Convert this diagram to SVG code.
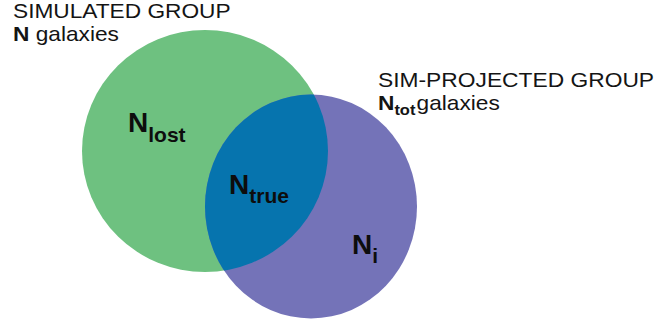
<svg xmlns="http://www.w3.org/2000/svg" width="660" height="324" viewBox="0 0 660 324">
  <style>
    .hdr { font-family: "Liberation Sans", Arial, sans-serif; font-size: 20px; fill: #141414; }
    .lbl { font-family: "Liberation Sans", Arial, sans-serif; font-weight: bold; fill: #0d0d0d; }
    .big { font-size: 28px; }
    .sub { font-size: 21px; }
    .b { font-weight: bold; }
  </style>
  <defs>
    <clipPath id="clipProjected">
      <ellipse cx="311" cy="206.5" rx="106" ry="112"/>
    </clipPath>
  </defs>
  <rect width="660" height="324" fill="#ffffff"/>

  <g id="simulated-group">
    <ellipse cx="205" cy="151" rx="123" ry="121" fill="#6ec180"/>
  </g>

  <g id="sim-projected-group">
    <ellipse cx="311" cy="206.5" rx="106" ry="112" fill="#7473b8"/>
  </g>

  <g id="overlap">
    <ellipse cx="205" cy="151" rx="123" ry="121" fill="#0674ae" clip-path="url(#clipProjected)"/>
  </g>

  <g id="connectors"/>

  <g id="labels-simulated">
    <text class="hdr" transform="translate(13,17.5) scale(1.135,1)">SIMULATED GROUP</text>
    <text class="hdr" transform="translate(13,41) scale(1.135,1)"><tspan class="b">N</tspan> galaxies</text>
  </g>

  <g id="labels-projected">
    <text class="hdr" transform="translate(378,87.3) scale(1.14,1)">SIM-PROJECTED GROUP</text>
    <text class="hdr" transform="translate(378,110) scale(1.135,1)"><tspan class="b">N</tspan><tspan class="b" font-size="14.5" dy="5">tot</tspan><tspan x="34" dy="-5">galaxies</tspan></text>
  </g>

  <g id="label-lost">
    <text class="lbl" x="128" y="132"><tspan class="big">N</tspan><tspan class="sub" dy="10">lost</tspan></text>
  </g>
  <g id="label-true">
    <text class="lbl" x="229" y="194"><tspan class="big">N</tspan><tspan class="sub" dy="9">true</tspan></text>
  </g>
  <g id="label-i">
    <text class="lbl" x="352" y="254"><tspan class="big">N</tspan><tspan class="sub" dy="9">i</tspan></text>
  </g>
</svg>
